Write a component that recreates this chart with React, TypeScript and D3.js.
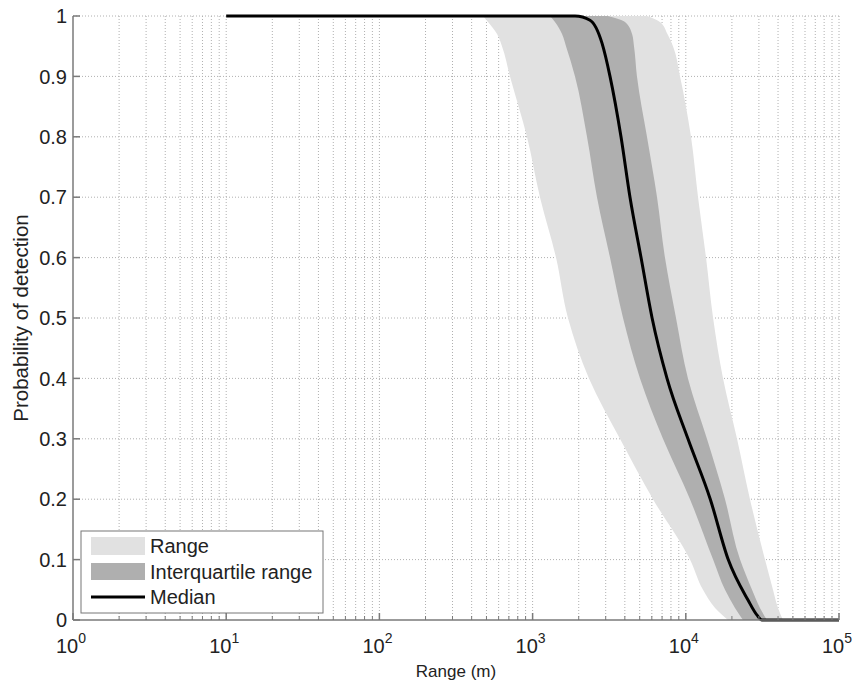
import React from "react";
import * as d3 from "d3";

// Probability levels used for the band boundaries
const probLevels = [1, 0.99, 0.97, 0.95, 0.9, 0.8, 0.7, 0.6, 0.5, 0.4, 0.3, 0.2, 0.1, 0.05, 0.02, 0];
// Range (m) of each band boundary at those levels
const rangeLow = [475, 512, 586, 631, 712, 919, 1117, 1422, 1702, 2334, 3718, 6109, 10650, 12950, 15520, 18850];
const rangeHigh = [5600, 6780, 7590, 8250, 9170, 10810, 12020, 13550, 15070, 17500, 21590, 26230, 32870, 37070, 39960, 43060];
const iqrLow = [1300, 1400, 1556, 1652, 1892, 2265, 2632, 3201, 3893, 5025, 7096, 10650, 15070, 18030, 20950, 23620];
const iqrHigh = [3100, 4010, 4460, 4590, 4800, 5580, 6490, 7310, 8630, 10330, 13740, 18030, 22600, 27060, 30480, 33880];

// Median curve
const medianRange = [10, 1892, 2370, 2838, 3201, 3776, 4323, 5103, 6025, 7540, 10330, 14450, 18920, 25470, 29170, 31410, 100000];
const medianProb = [1, 1, 0.993, 0.955, 0.9, 0.8, 0.7, 0.6, 0.5, 0.4, 0.3, 0.2, 0.1, 0.033, 0.008, 0, 0];

const yTicks = [0, 0.1, 0.2, 0.3, 0.4, 0.5, 0.6, 0.7, 0.8, 0.9, 1];
const yTickLabels = ["0", "0.1", "0.2", "0.3", "0.4", "0.5", "0.6", "0.7", "0.8", "0.9", "1"];
const xDecades = [1, 10, 100, 1000, 10000, 100000];
const xExponents = ["0", "1", "2", "3", "4", "5"];

const legendLabels = ["Range", "Interquartile range", "Median"];

const FONT = "'Liberation Sans', Arial, Helvetica, sans-serif";
const COL_RANGE = "#e1e1e1";
const COL_IQR = "#afafaf";
const AXIS_COL = "#7a7a7a";

export default function App() {
  const width = 856;
  const height = 685;
  const left = 73;
  const right = 839;
  const top = 16;
  const bottom = 620;

  const x = d3.scaleLog().domain([1, 100000]).range([left, right]);
  const y = d3.scaleLinear().domain([0, 1]).range([bottom, top]);

  const minorTicks: number[] = [];
  for (let d = 0; d < 5; d++) {
    for (let k = 2; k <= 9; k++) minorTicks.push(k * Math.pow(10, d));
  }

  const bandArea = (lo: number[], hi: number[]) =>
    d3
      .area<number>()
      .y((_, i) => y(probLevels[i]))
      .x0((_, i) => x(lo[i]))
      .x1((_, i) => x(hi[i]))
      .curve(d3.curveMonotoneY)(probLevels) as string;

  const medianPts = medianRange.map((r, i) => [r, medianProb[i]] as [number, number]);
  const medianPath = d3
    .line<[number, number]>()
    .x((d) => x(d[0]))
    .y((d) => y(d[1]))
    .curve(d3.curveMonotoneX)(medianPts) as string;

  const gridStyle = { stroke: "#b0b0b0", strokeWidth: 1, strokeDasharray: "1,2" };

  return (
    <svg width={width} height={height} style={{ display: "block", position: "absolute", left: 0, top: 0 }}>
      <rect x={0} y={0} width={width} height={height} fill="#fff" />
      {/* grid */}
      <g>
        {yTicks.filter((t) => t > 0).map((t) => (
          <line key={"gy" + t} x1={left} x2={right} y1={y(t)} y2={y(t)} {...gridStyle} />
        ))}
        {[...xDecades.slice(1), ...minorTicks].map((t) => (
          <line key={"gx" + t} x1={x(t)} x2={x(t)} y1={top} y2={bottom} {...gridStyle} />
        ))}
      </g>
      {/* bands */}
      <path d={bandArea(rangeLow, rangeHigh)} fill={COL_RANGE} />
      <path d={bandArea(iqrLow, iqrHigh)} fill={COL_IQR} />
      <path d={medianPath} fill="none" stroke="#000" strokeWidth={3} />
      {/* axes */}
      <line x1={left} x2={left} y1={top} y2={bottom} stroke={AXIS_COL} strokeWidth={1.5} />
      <line x1={left} x2={right} y1={bottom} y2={bottom} stroke={AXIS_COL} strokeWidth={1.5} />
      {yTicks.map((t, i) => (
        <g key={"yt" + t}>
          <line x1={left} x2={left + 7} y1={y(t)} y2={y(t)} stroke={AXIS_COL} strokeWidth={1.5} />
          <text x={left - 6} y={y(t)} dy="0.36em" textAnchor="end" fontFamily={FONT} fontSize={20} fill="#222">
            {yTickLabels[i]}
          </text>
        </g>
      ))}
      {minorTicks.map((t) => (
        <line key={"xm" + t} x1={x(t)} x2={x(t)} y1={bottom} y2={bottom - 4} stroke={AXIS_COL} strokeWidth={1} />
      ))}
      {xDecades.map((t, i) => (
        <g key={"xt" + t}>
          <line x1={x(t)} x2={x(t)} y1={bottom} y2={bottom - 7} stroke={AXIS_COL} strokeWidth={1.5} />
          <text x={x(t) - 2} y={653} textAnchor="middle" fontFamily={FONT} fontSize={20} fill="#222">
            10
            <tspan dy={-10} fontSize={14}>
              {xExponents[i]}
            </tspan>
          </text>
        </g>
      ))}
      <text x={(left + right) / 2} y={677} textAnchor="middle" fontFamily={FONT} fontSize={17} fill="#222">
        Range (m)
      </text>
      <text
        transform={`translate(28, ${(top + bottom) / 2}) rotate(-90)`}
        textAnchor="middle"
        fontFamily={FONT}
        fontSize={20.5}
        fill="#222"
      >
        Probability of detection
      </text>
      {/* legend */}
      <g>
        <rect x={81} y={531} width={242} height={82} fill="#fff" stroke="#777" strokeWidth={1} />
        <rect x={91} y={537} width={54} height={18} fill={COL_RANGE} />
        <rect x={91} y={563} width={54} height={17} fill={COL_IQR} />
        <line x1={91} x2={145} y1={597} y2={597} stroke="#000" strokeWidth={3} />
        {legendLabels.map((l, i) => (
          <text key={l} x={150} y={[553, 578.5, 604][i]} fontFamily={FONT} fontSize={20} fill="#222">
            {l}
          </text>
        ))}
      </g>
    </svg>
  );
}
